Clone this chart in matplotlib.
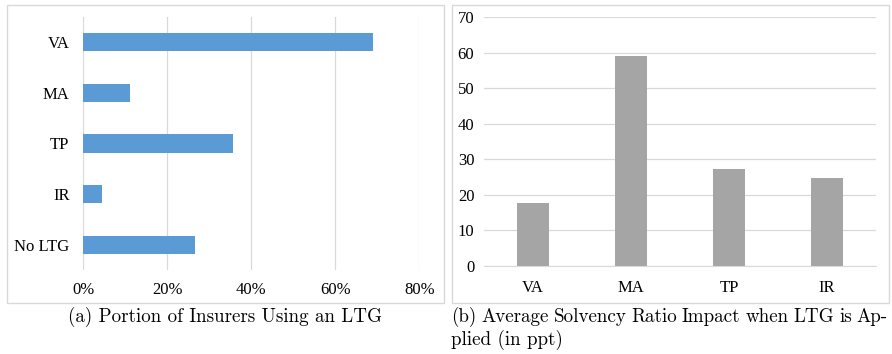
import matplotlib
matplotlib.use("Agg")
import matplotlib.pyplot as plt
from matplotlib.patches import Rectangle
from matplotlib.ticker import PercentFormatter

# 左图：使用各类 LTG 措施的保险公司占比
ltg_labels = ["VA", "MA", "TP", "IR", "No LTG"]
ltg_share = [0.69, 0.11, 0.356, 0.045, 0.266]

# 右图：应用 LTG 后的平均偿付能力比率影响（百分点）
impact_labels = ["VA", "MA", "TP", "IR"]
impact_ppt = [17.8, 59.0, 27.3, 24.6]

W, H = 892, 354
BLUE = "#5B9BD5"
GRAY = "#A5A5A5"
GRID = "#D9D9D9"
SERIF = "Liberation Serif"
CAPTION = "cmr10"
CAP_SIZE = 13.7
TICK_SIZE = 12


def px_axes(fig, x0, y0, x1, y1):
    """按像素坐标（左上原点）创建坐标轴"""
    return fig.add_axes([x0 / W, (H - y1) / H, (x1 - x0) / W, (y1 - y0) / H])


def px_frame(fig, x0, y0, x1, y1):
    """图表外框"""
    fig.patches.append(Rectangle((x0 / W, (H - y1) / H), (x1 - x0) / W, (y1 - y0) / H,
                                 transform=fig.transFigure, fill=False,
                                 edgecolor=GRID, linewidth=1.0))


def justified_line(fig, text, x0, x1, y):
    """两端对齐的一行标题文字"""
    renderer = fig.canvas.get_renderer()
    words = text.split(" ")
    items = [fig.text(0, 1 - y / H, w, ha="left", va="center",
                      family=CAPTION, fontsize=CAP_SIZE) for w in words]
    widths = [t.get_window_extent(renderer).width for t in items]
    gap = (x1 - x0 - sum(widths)) / (len(words) - 1)
    x = x0
    for t, w in zip(items, widths):
        t.set_x(x / W)
        x += w + gap


fig = plt.figure(figsize=(W / 100, H / 100), dpi=100)

px_frame(fig, 6.5, 4.5, 443.5, 302.5)
px_frame(fig, 451.5, 4.5, 888.5, 302.5)

# ----- (a) 横向条形图 -----
ax1 = px_axes(fig, 83.3, 17, 419.3, 270)
y = range(len(ltg_labels))
ax1.barh(y, ltg_share, height=0.36, color=BLUE, zorder=2)
ax1.set_xlim(0, 0.8)
ax1.set_ylim(len(ltg_labels) - 0.5, -0.5)
ax1.set_xticks([0, 0.2, 0.4, 0.6, 0.8])
ax1.xaxis.set_major_formatter(PercentFormatter(1.0, decimals=0))
ax1.set_yticks(list(y))
ax1.set_yticklabels(ltg_labels)
ax1.grid(axis="x", color=GRID, linewidth=0.9)
ax1.set_axisbelow(True)
for spine in ax1.spines.values():
    spine.set_visible(False)
ax1.tick_params(axis="both", length=0, labelsize=TICK_SIZE)
ax1.tick_params(axis="y", pad=10)
ax1.tick_params(axis="x", pad=9)
for lab in ax1.get_xticklabels() + ax1.get_yticklabels():
    lab.set_fontfamily(SERIF)

# ----- (b) 柱状图 -----
ax2 = px_axes(fig, 484, 17, 876, 266)
x = range(len(impact_labels))
ax2.bar(x, impact_ppt, width=0.32, color=GRAY, zorder=2)
ax2.set_xlim(-0.5, len(impact_labels) - 0.5)
ax2.set_ylim(0, 70)
ax2.set_yticks(range(0, 71, 10))
ax2.set_xticks(list(x))
ax2.set_xticklabels(impact_labels)
ax2.grid(axis="y", color=GRID, linewidth=0.9)
ax2.set_axisbelow(True)
for name, spine in ax2.spines.items():
    spine.set_visible(name == "bottom")
ax2.spines["bottom"].set_color(GRID)
ax2.tick_params(axis="both", length=0, labelsize=TICK_SIZE)
ax2.tick_params(axis="y", pad=7)
ax2.tick_params(axis="x", pad=10)
for lab in ax2.get_xticklabels() + ax2.get_yticklabels():
    lab.set_fontfamily(SERIF)

# 子图标题
fig.text(225 / W, 1 - 317 / H, "(a) Portion of Insurers Using an LTG",
         ha="center", va="center", family=CAPTION, fontsize=CAP_SIZE)
justified_line(fig, "(b) Average Solvency Ratio Impact when LTG is Ap-", 451, 888, 317)
fig.text(451 / W, 1 - 340 / H, "plied (in ppt)",
         ha="left", va="center", family=CAPTION, fontsize=CAP_SIZE)

fig.savefig("out.png", dpi=100)
